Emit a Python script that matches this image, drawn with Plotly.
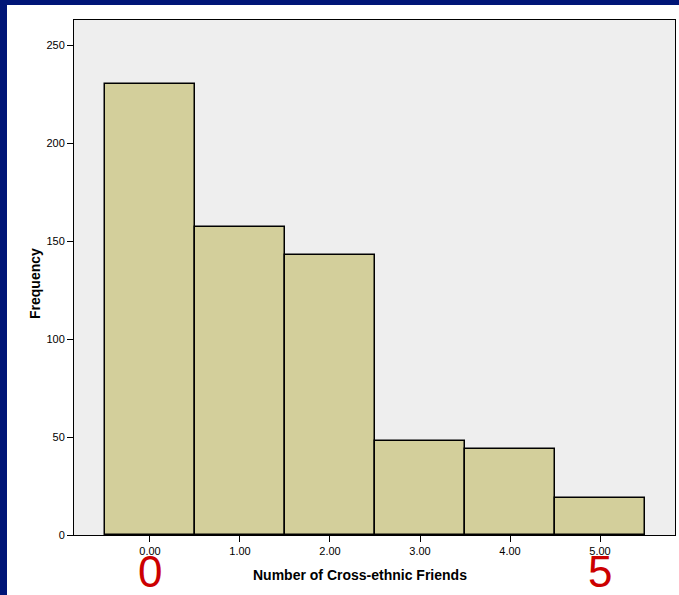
import plotly.graph_objects as go

categories = [0, 1, 2, 3, 4, 5]
tick_labels = ["0.00", "1.00", "2.00", "3.00", "4.00", "5.00"]
frequencies = [230, 157, 143, 48, 44, 19]
y_ticks = [0, 50, 100, 150, 200, 250]

W, H = 679, 595
ML, MR, MT, MB = 74, 4, 20, 60
PW = W - ML - MR
PH = H - MT - MB

def px_x(p):
    return (p - ML) / PW

def px_y(p):
    return (H - MB - p) / PH

fig = go.Figure()
fig.add_trace(go.Bar(
    x=categories, y=frequencies, width=1,
    marker=dict(color="#d3cf9b", line=dict(color="black", width=1.5)),
    hoverinfo="x+y",
))

font = "Liberation Sans, Arial, sans-serif"
fig.update_layout(
    width=W, height=H,
    margin=dict(l=ML, r=MR, t=MT, b=MB, pad=0),
    paper_bgcolor="white", plot_bgcolor="#eeeeee",
    showlegend=False,
    font=dict(family=font, color="black", size=11),
    bargap=0,
    xaxis=dict(range=[-0.844, 5.833], tickvals=categories, ticktext=tick_labels,
               ticks="outside", ticklen=6, tickcolor="black", showgrid=False,
               zeroline=False, showline=True, linecolor="black", linewidth=1, mirror=True,
               tickfont=dict(size=11, family=font)),
    yaxis=dict(range=[0, 262.8], tickvals=y_ticks, ticks="outside", ticklen=6,
               tickcolor="black", showgrid=False, zeroline=False, showline=True,
               linecolor="black", linewidth=1, mirror=True,
               tickfont=dict(size=11, family=font)),
    shapes=[
        dict(type="rect", xref="paper", yref="paper", x0=px_x(0), x1=px_x(7),
             y0=px_y(H), y1=px_y(0), fillcolor="#001577", line=dict(width=0), layer="above"),
        dict(type="rect", xref="paper", yref="paper", x0=px_x(0), x1=px_x(W),
             y0=px_y(5), y1=px_y(0), fillcolor="#001577", line=dict(width=0), layer="above"),
    ],
    annotations=[
        dict(text="<b>Number of Cross-ethnic Friends</b>", xref="paper", yref="paper",
             x=px_x(360), y=px_y(575), showarrow=False, xanchor="center", yanchor="middle",
             font=dict(size=14, family=font)),
        dict(text="<b>Frequency</b>", xref="paper", yref="paper",
             x=px_x(35), y=px_y(284), showarrow=False, textangle=-90,
             xanchor="center", yanchor="middle", font=dict(size=14, family=font)),
        dict(text="0", xref="x", yref="paper", x=0, y=px_y(571), showarrow=False,
             xanchor="center", yanchor="middle", font=dict(size=44, color="#cc0000", family=font)),
        dict(text="5", xref="x", yref="paper", x=5, y=px_y(571), showarrow=False,
             xanchor="center", yanchor="middle", font=dict(size=44, color="#cc0000", family=font)),
    ],
)

fig.write_html("out.html", config={"displayModeBar": False},
               post_script="document.body.style.margin='0';document.body.style.padding='0';")
